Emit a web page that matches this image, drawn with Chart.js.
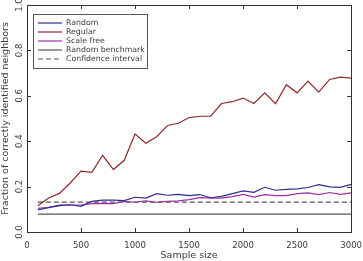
<!DOCTYPE html>
<html>
<head>
<meta charset="utf-8">
<script src="https://cdn.jsdelivr.net/npm/chart.js@4/dist/chart.umd.min.js"></script>
<style>
  html, body { margin: 0; padding: 0; background: #fff; }
  #wrap { width: 363px; height: 261px; }
</style>
</head>
<body>
<div id="wrap"><canvas id="mycanvas" width="363" height="261"></canvas></div>
<script>
var sampleSize = [100,200,300,400,500,600,700,800,900,1000,1100,1200,1300,1400,1500,
                  1600,1700,1800,1900,2000,2100,2200,2300,2400,2500,2600,2700,2800,2900,3000];
var random = [0.097,0.107,0.116,0.120,0.113,0.135,0.140,0.140,0.138,0.153,0.149,0.169,0.162,0.166,0.160,
              0.165,0.151,0.157,0.169,0.181,0.175,0.197,0.184,0.188,0.190,0.196,0.209,0.199,0.197,0.210];
var regular = [0.116,0.150,0.170,0.216,0.268,0.263,0.338,0.275,0.316,0.432,0.391,0.420,0.469,0.479,0.504,
               0.510,0.510,0.566,0.574,0.590,0.566,0.613,0.565,0.649,0.613,0.665,0.616,0.672,0.682,0.678];
var scaleFree = [0.104,0.109,0.118,0.119,0.119,0.125,0.126,0.125,0.135,0.131,0.137,0.131,0.135,0.137,0.143,
                 0.151,0.149,0.149,0.156,0.166,0.154,0.165,0.160,0.160,0.169,0.172,0.165,0.174,0.166,0.172];
var benchmark = 0.079;
var confidence = 0.132;
var yTicks = [0.0, 0.2, 0.4, 0.6, 0.8, 1.0];
var xTicks = [0, 500, 1000, 1500, 2000, 2500, 3000];

function pts(vals) {
  var out = [];
  for (var i in vals) out.push({x: sampleSize[i], y: vals[i]});
  return out;
}
function flat(v) {
  return [{x: sampleSize[0], y: v}, {x: sampleSize[sampleSize.length - 1], y: v}];
}

var FONT = "DejaVu Sans";
var TXT = "#3a3a3a";

// box, inward ticks, rotated y labels, legend inside the plot
var decor = {
  id: "decor",
  afterDraw: function(chart) {
    var ctx = chart.ctx, a = chart.chartArea;
    var xs = chart.scales.x, ys = chart.scales.y;
    ctx.save();
    ctx.strokeStyle = "#333";
    ctx.lineWidth = 1;
    ctx.strokeRect(Math.round(a.left) + 0.5, Math.round(a.top) + 0.5,
                   Math.round(a.right - a.left), Math.round(a.bottom - a.top));
    ctx.beginPath();
    xTicks.forEach(function(t) {
      var px = Math.round(xs.getPixelForValue(t)) + 0.5;
      ctx.moveTo(px, a.bottom); ctx.lineTo(px, a.bottom - 4);
      ctx.moveTo(px, a.top); ctx.lineTo(px, a.top + 4);
    });
    yTicks.forEach(function(t) {
      var py = Math.round(ys.getPixelForValue(t)) + 0.5;
      ctx.moveTo(a.left, py); ctx.lineTo(a.left + 4, py);
      ctx.moveTo(a.right, py); ctx.lineTo(a.right - 4, py);
    });
    ctx.stroke();

    ctx.fillStyle = TXT;
    ctx.font = "8.5px '" + FONT + "'";
    ctx.textAlign = "center";
    ctx.textBaseline = "middle";
    yTicks.forEach(function(t) {
      ctx.save();
      ctx.translate(a.left - 7, ys.getPixelForValue(t));
      ctx.rotate(-Math.PI / 2);
      ctx.fillText(t.toFixed(1), 0, 0);
      ctx.restore();
    });

    // legend
    var lx = 33, ly = 14, lw = 114, lh = 54;
    ctx.fillStyle = "#fff";
    ctx.fillRect(lx, ly, lw, lh);
    ctx.strokeStyle = "#555";
    ctx.strokeRect(lx + 0.5, ly + 0.5, lw, lh);
    ctx.textAlign = "left";
    ctx.font = "7.8px '" + FONT + "'";
    chart.data.datasets.forEach(function(ds, i) {
      var y = ly + 9 + i * 9;
      ctx.strokeStyle = ds.borderColor;
      ctx.lineWidth = 1.2;
      ctx.setLineDash(ds.borderDash || []);
      ctx.beginPath();
      ctx.moveTo(38, y); ctx.lineTo(62, y);
      ctx.stroke();
      ctx.setLineDash([]);
      ctx.fillStyle = TXT;
      ctx.fillText(ds.label, 66, y);
    });
    ctx.restore();
  }
};

var chartdata = {
  datasets: [
    { label: "Random", data: pts(random), borderColor: "#2e2e8c" },
    { label: "Regular", data: pts(regular), borderColor: "#8e2a2a" },
    { label: "Scale free", data: pts(scaleFree), borderColor: "#a030a8" },
    { label: "Random benchmark", data: flat(benchmark), borderColor: "#555555" },
    { label: "Confidence interval", data: flat(confidence), borderColor: "#555555", borderDash: [5, 3] }
  ]
};

new Chart(document.getElementById("mycanvas"), {
  type: "line",
  data: chartdata,
  plugins: [decor],
  options: {
    responsive: false,
    animation: false,
    layout: { padding: { top: 5, right: 0, left: 0, bottom: 0 } },
    elements: {
      point: { radius: 0 },
      line: { borderWidth: 1.2, tension: 0, fill: false }
    },
    plugins: { legend: { display: false }, tooltip: { enabled: false } },
    scales: {
      x: {
        type: "linear", min: 0, max: 3000,
        grid: { display: false },
        border: { display: false },
        afterBuildTicks: function(s) { s.ticks = xTicks.map(function(v) { return {value: v}; }); },
        afterFit: function(s) { s.height = 29; },
        ticks: { color: TXT, font: { family: FONT, size: 8.5 }, padding: 1, maxRotation: 0,
                 callback: function(v) { return String(v); } },
        title: { display: true, text: "Sample size", color: TXT, font: { family: FONT, size: 9.5 }, padding: { top: 0, bottom: 0 } }
      },
      y: {
        min: 0, max: 1,
        grid: { display: false },
        border: { display: false },
        ticks: { display: false },
        afterFit: function(s) { s.width = 27; },
        title: { display: true, text: "Fraction of correctly identified neighbors", color: TXT, font: { family: FONT, size: 9.5 }, padding: 0 }
      }
    }
  }
});
</script>
</body>
</html>
